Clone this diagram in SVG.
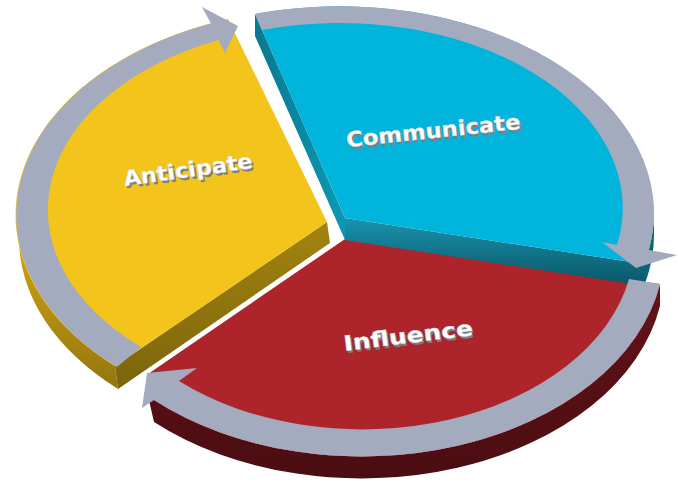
<svg xmlns="http://www.w3.org/2000/svg" width="678" height="482" viewBox="0 0 678 482">
<defs>
<linearGradient id="ySide" x1="0" y1="0" x2="0" y2="1"><stop offset="0" stop-color="#d8ab14"/><stop offset="1" stop-color="#94760f"/></linearGradient>
<linearGradient id="yEdge" x1="0" y1="0" x2="0" y2="1"><stop offset="0" stop-color="#a3840f"/><stop offset="1" stop-color="#7c640c"/></linearGradient>
<linearGradient id="bFront" x1="0" y1="0" x2="0" y2="1"><stop offset="0" stop-color="#1a93ad"/><stop offset="1" stop-color="#0a5566"/></linearGradient>
<linearGradient id="bLeft" x1="0" y1="0" x2="1" y2="0"><stop offset="0" stop-color="#0a7890"/><stop offset="1" stop-color="#0c97b5"/></linearGradient>
<linearGradient id="rSide" x1="0" y1="0" x2="0" y2="1"><stop offset="0" stop-color="#651319"/><stop offset="1" stop-color="#4a0d11"/></linearGradient>
<style>
.band{fill:#a4abbf}
.lbl{font-family:"DejaVu Sans",sans-serif;font-weight:bold;font-size:21px}
.sh{fill:#7d7d84}
.fg{fill:#ffffff;stroke:#d9d9de;stroke-width:0.4}
</style>
</defs>
<rect width="678" height="482" fill="#ffffff"/>

<g id="anticipate">
<path d="M16,215 A314,207 0 0 0 115,366 L118,389 A314,207 0 0 1 19,238 Z" fill="url(#ySide)"/>
<path d="M115,366 L327,222 L330,243 L118,389 Z" fill="url(#yEdge)"/>
<path d="M327,222 L228,19 A314,207 0 0 0 115,366 Z" fill="#f2c41c"/>
<g transform="translate(189,177) rotate(-8)">
<text class="lbl sh" x="-63.5" y="2.5" textLength="130" lengthAdjust="spacingAndGlyphs">Anticipate</text>
<text class="lbl fg" x="-65" y="0" textLength="130" lengthAdjust="spacingAndGlyphs">Anticipate</text>
</g>
</g>

<g id="influence">
<path d="M660,284 A303,208 0 0 1 154,400 L148,374 L148,396 L154,422 A303,208 0 0 0 660,306 Z" fill="url(#rSide)"/>
<path d="M345,239 L660,284 A303,208 0 0 1 154,400 L148,374 Z" fill="#ad242a"/>
<g transform="translate(409,343) rotate(-7)">
<text class="lbl sh" x="-63.5" y="2.5" textLength="130" lengthAdjust="spacingAndGlyphs">Influence</text>
<text class="lbl fg" x="-65" y="0" textLength="130" lengthAdjust="spacingAndGlyphs">Influence</text>
</g>
</g>

<g id="communicate">
<path d="M255,14 L345,218 L345,240 L255,36 Z" fill="url(#bLeft)"/>
<path d="M345,218 L644,264 L644,286 L345,240 Z" fill="url(#bFront)"/>
<path d="M654,213 A314,207 0 0 1 644,264 L644,286 A314,207 0 0 0 654,235 Z" fill="#0a6478"/>
<path d="M255,14 A314,207 0 0 1 644,264 L345,218 Z" fill="#00b4dc"/>
<g transform="translate(434,138) rotate(-6)">
<text class="lbl sh" x="-86" y="2.5" textLength="175" lengthAdjust="spacingAndGlyphs">Communicate</text>
<text class="lbl fg" x="-87.5" y="0" textLength="175" lengthAdjust="spacingAndGlyphs">Communicate</text>
</g>
</g>

<g id="connectors">
<path class="band" d="M117,367 A314,207 0 0 1 211,23.5 L202,7 L238,26 L225,53 L218.5,40 A283,185 0 0 0 141,347 Z"/>
<path class="band" d="M255,14 A314,207 0 0 1 649,250 L677,255 L636,268 L602,242 L617,245 A283,185 0 0 0 262,30 Z"/>
<path class="band" d="M660,284 A303,208 0 0 1 154,400 L142,408 L147,373 L197,368 L179,381 A272,186 0 0 0 629,279 Z"/>
</g>
</svg>
